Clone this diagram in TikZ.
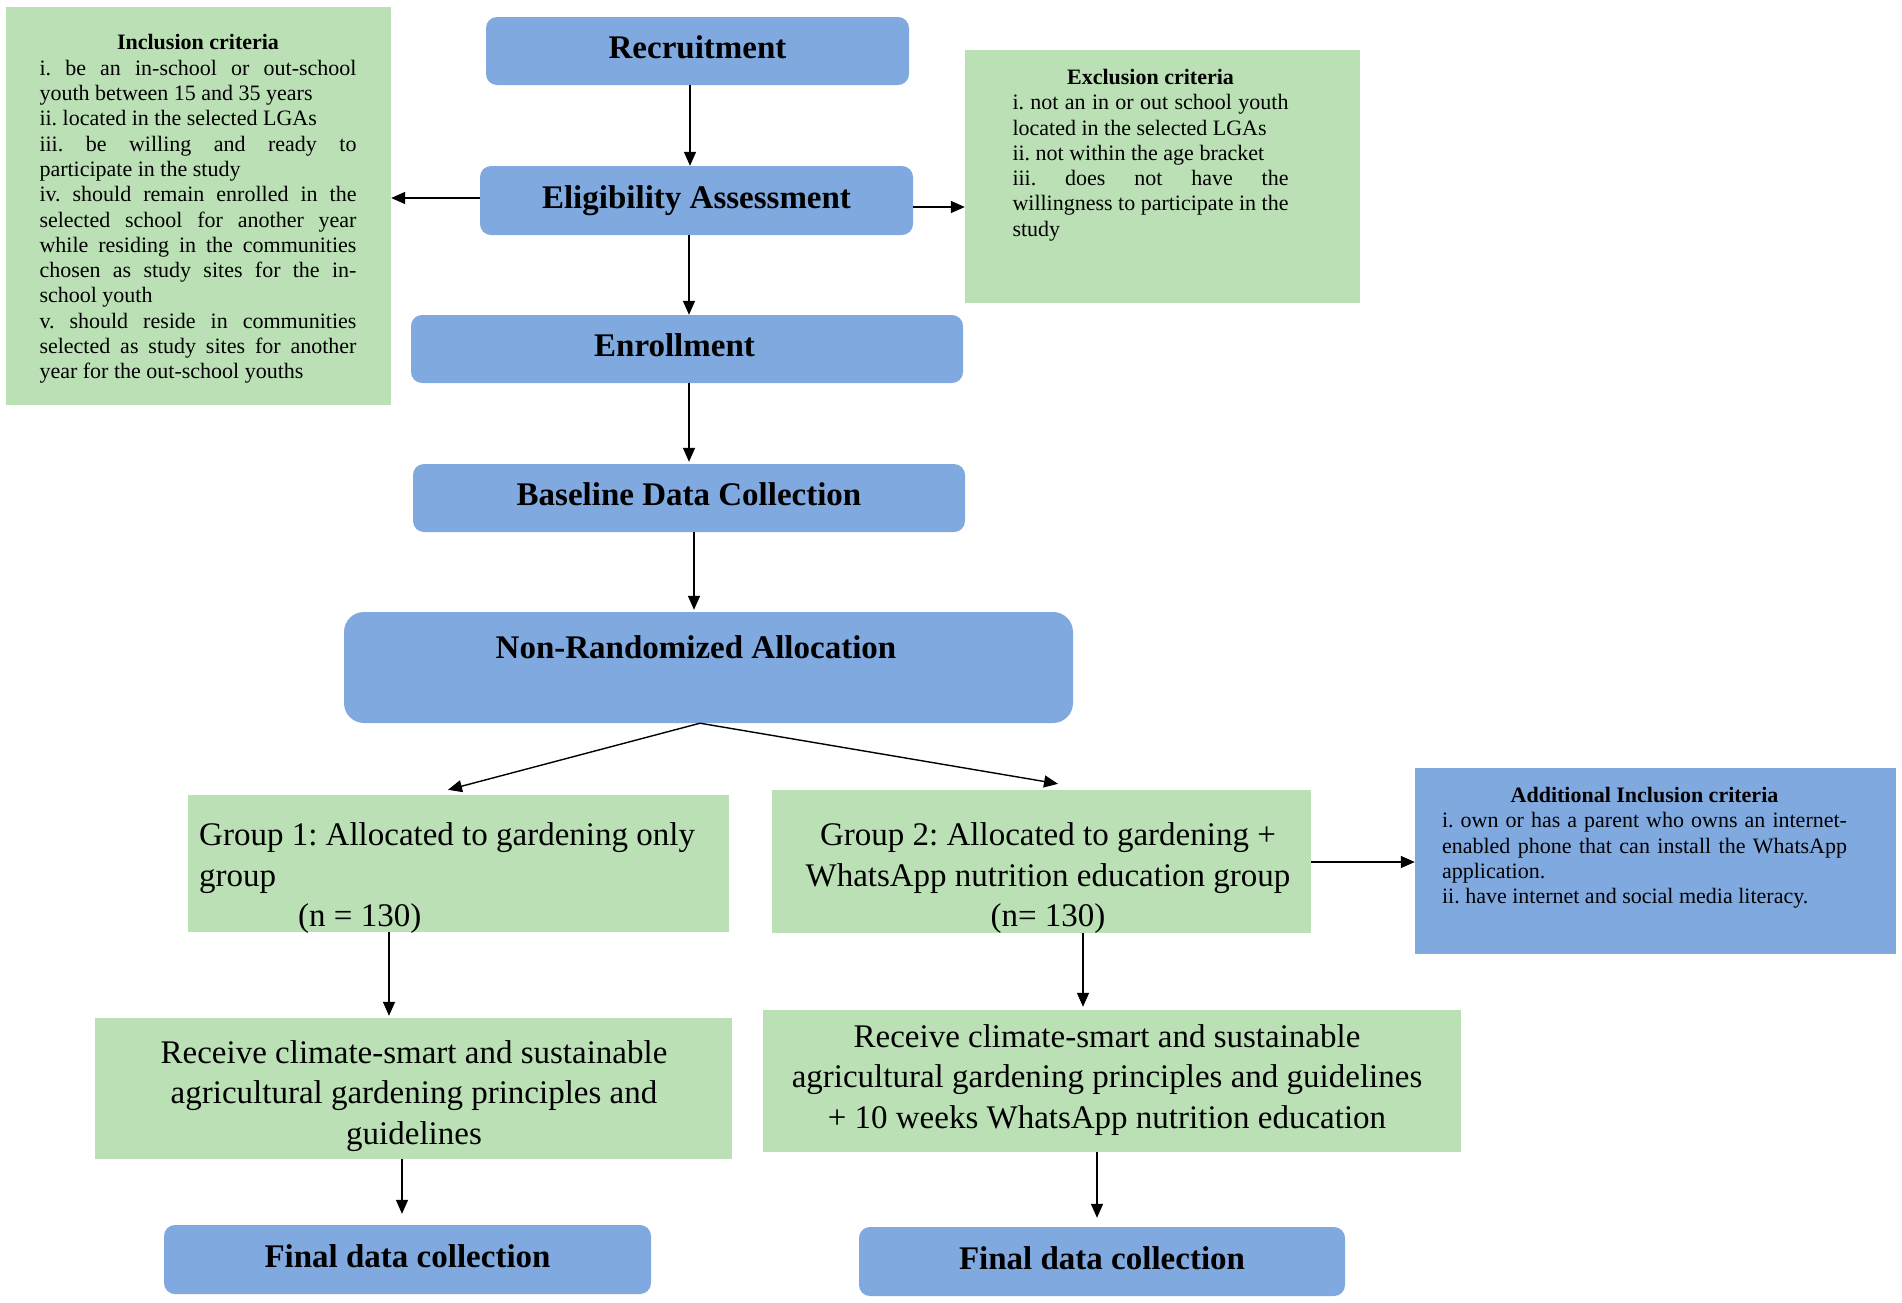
\documentclass[tikz,border=0pt]{standalone}
\usepackage{fontspec}
\setmainfont{Liberation Serif}
\usetikzlibrary{arrows.meta,calc}
\definecolor{boxblue}{RGB}{127,169,223}
\definecolor{boxgreen}{RGB}{187,224,181}
\newcommand{\resetsp}{\spaceskip=0pt\xspaceskip=0pt\frenchspacing\relax}
\newcommand{\jl}[2]{\makebox[#1][s]{\resetsp #2}}
\begin{document}
\frenchspacing
\begin{tikzpicture}[x=1pt,y=-1pt,
  bluebox/.style={fill=boxblue, rounded corners=11pt, inner sep=0pt},
  sqbluebox/.style={fill=boxblue, inner sep=0pt},
  greenbox/.style={fill=boxgreen, inner sep=0pt},
  headfont/.style={font=\fontsize{33}{40.5}\selectfont\bfseries, text height=23pt, text depth=8pt},
  bigfont/.style={font=\fontsize{33}{40.5}\selectfont, inner sep=0pt},
  smallfont/.style={font=\fontsize{22}{25.3}\selectfont, inner sep=0pt},
  arr/.style={line width=1.4pt, -{Triangle[length=14pt,width=12pt]}}]
\fill[white] (0,0) rectangle (1902,1302);
\useasboundingbox (0,0) rectangle (1902,1302);

% boxes
\node[bluebox, headfont, minimum width=423pt, minimum height=68pt] (rec) at (697.5,51) {Recruitment};
\node[bluebox, headfont, minimum width=433pt, minimum height=69pt] (elig) at (696.5,200.5) {Eligibility Assessment};
\node[bluebox, headfont, minimum width=552pt, minimum height=68pt] (enr) at (687,349) {Enrollment\hspace*{25pt}};
\node[bluebox, headfont, minimum width=552pt, minimum height=68pt] (base) at (689,498) {Baseline Data Collection};
\node[bluebox, rounded corners=20pt, minimum width=729pt, minimum height=111pt] (nra) at (708.5,667.5) {};
\node[font=\fontsize{33}{40.5}\selectfont\bfseries, anchor=base, inner sep=0pt] (nrat) at (696,658) {Non-Randomized Allocation};

\node[greenbox, minimum width=385pt, minimum height=398pt] (incl) at (198.5,206) {};
\node[smallfont, anchor=north, text width=317pt, align=left] (inclt) at (198,34.5) {\resetsp
\makebox[317pt][c]{\bfseries Inclusion criteria}\\
\jl{317pt}{i. be an in-school or out-school}\\
youth between 15 and 35 years\\
ii. located in the selected LGAs\\
\jl{317pt}{iii. be willing and ready to}\\
participate in the study\\
\jl{317pt}{iv. should remain enrolled in the}\\
\jl{317pt}{selected school for another year}\\
\jl{317pt}{while residing in the communities}\\
\jl{317pt}{chosen as study sites for the in-}\\
school youth\\
\jl{317pt}{v. should reside in communities}\\
\jl{317pt}{selected as study sites for another}\\
year for the out-school youths};

\node[greenbox, minimum width=395pt, minimum height=253pt] (excl) at (1162.5,176.5) {};
\node[smallfont, anchor=north, text width=276pt, align=left] (exclt) at (1150.5,69) {\resetsp
\makebox[276pt][c]{\bfseries Exclusion criteria}\\
\jl{276pt}{i. not an in or out school youth}\\
located in the selected LGAs\\
ii. not within the age bracket\\
\jl{276pt}{iii. does not have the}\\
\jl{276pt}{willingness to participate in the}\\
study};

\node[greenbox, minimum width=541pt, minimum height=137pt] (g1) at (458.5,863.5) {};
\node[bigfont, anchor=north west, align=left] (g1t) at (199,822.5) {\resetsp
Group 1: Allocated to gardening only\\
group\\
\hspace*{99pt}(n = 130)};

\node[greenbox, minimum width=539pt, minimum height=143pt] (g2) at (1041.5,861.5) {};
\node[bigfont, anchor=north, align=center] (g2t) at (1048,822.5) {\resetsp
Group 2: Allocated to gardening +\\
WhatsApp nutrition education group\\
(n= 130)};

\node[sqbluebox, minimum width=481pt, minimum height=186pt] (add) at (1655.5,861) {};
\node[smallfont, anchor=north, text width=405pt, align=left] (addt) at (1644.5,787) {\resetsp
\makebox[405pt][c]{\bfseries Additional Inclusion criteria}\\
\jl{405pt}{i. own or has a parent who owns an internet-}\\
\jl{405pt}{enabled phone that can install the WhatsApp}\\
application.\\
ii. have internet and social media literacy.};

\node[greenbox, minimum width=637pt, minimum height=141pt] (r1) at (413.5,1088.5) {};
\node[bigfont, anchor=north, align=center] (r1t) at (414,1040) {\resetsp
Receive climate-smart and sustainable\\
agricultural gardening principles and\\
guidelines};

\node[greenbox, minimum width=698pt, minimum height=142pt] (r2) at (1112,1081) {};
\node[bigfont, anchor=north, align=center] (r2t) at (1107,1024) {\resetsp
Receive climate-smart and sustainable\\
agricultural gardening principles and guidelines\\
+ 10 weeks WhatsApp nutrition education};

\node[bluebox, headfont, minimum width=487pt, minimum height=69pt] (f1) at (407.5,1259.5) {Final data collection};
\node[bluebox, headfont, minimum width=486pt, minimum height=69pt] (f2) at (1102,1261.5) {Final data collection};

% connector guide coordinates
\coordinate (xa) at (690,0);
\coordinate (xb) at (689,0);
\coordinate (xc) at (694,0);
\coordinate (xs) at (700,0);
\coordinate (xg1) at (448,0);
\coordinate (xg2) at (1058,0);
\coordinate (xd) at (389,0);
\coordinate (xe) at (1083,0);
\coordinate (xf) at (402,0);
\coordinate (xh) at (1097,0);
\coordinate (yl) at (0,198);
\coordinate (yr) at (0,207);
\coordinate (ya) at (0,862);

% connectors
\draw[arr] (rec.south -| xa) -- (elig.north -| xa);
\draw[arr] (elig.west |- yl) -- (incl.east |- yl);
\draw[arr] (elig.east |- yr) -- (excl.west |- yr);
\draw[arr] (elig.south -| xb) -- (enr.north -| xb);
\draw[arr] (enr.south -| xb) -- ($(base.north -| xb)+(0,-2)$);
\draw[arr] (base.south -| xc) -- ($(nra.north -| xc)+(0,-2)$);
\draw[arr] (nra.south -| xs) -- ($(g1.north -| xg1)+(0,-5)$);
\draw[arr] (nra.south -| xs) -- ($(g2.north -| xg2)+(0,-6)$);
\draw[arr] (g1.south -| xd) -- ($(r1.north -| xd)+(0,-2)$);
\draw[arr] (g2.south -| xe) -- ($(r2.north -| xe)+(0,-3)$);
\draw[arr] (r1.south -| xf) -- ($(f1.north -| xf)+(0,-11)$);
\draw[arr] (r2.south -| xh) -- ($(f2.north -| xh)+(0,-9)$);
\draw[arr] (g2.east |- ya) -- (add.west |- ya);
\end{tikzpicture}
\end{document}
